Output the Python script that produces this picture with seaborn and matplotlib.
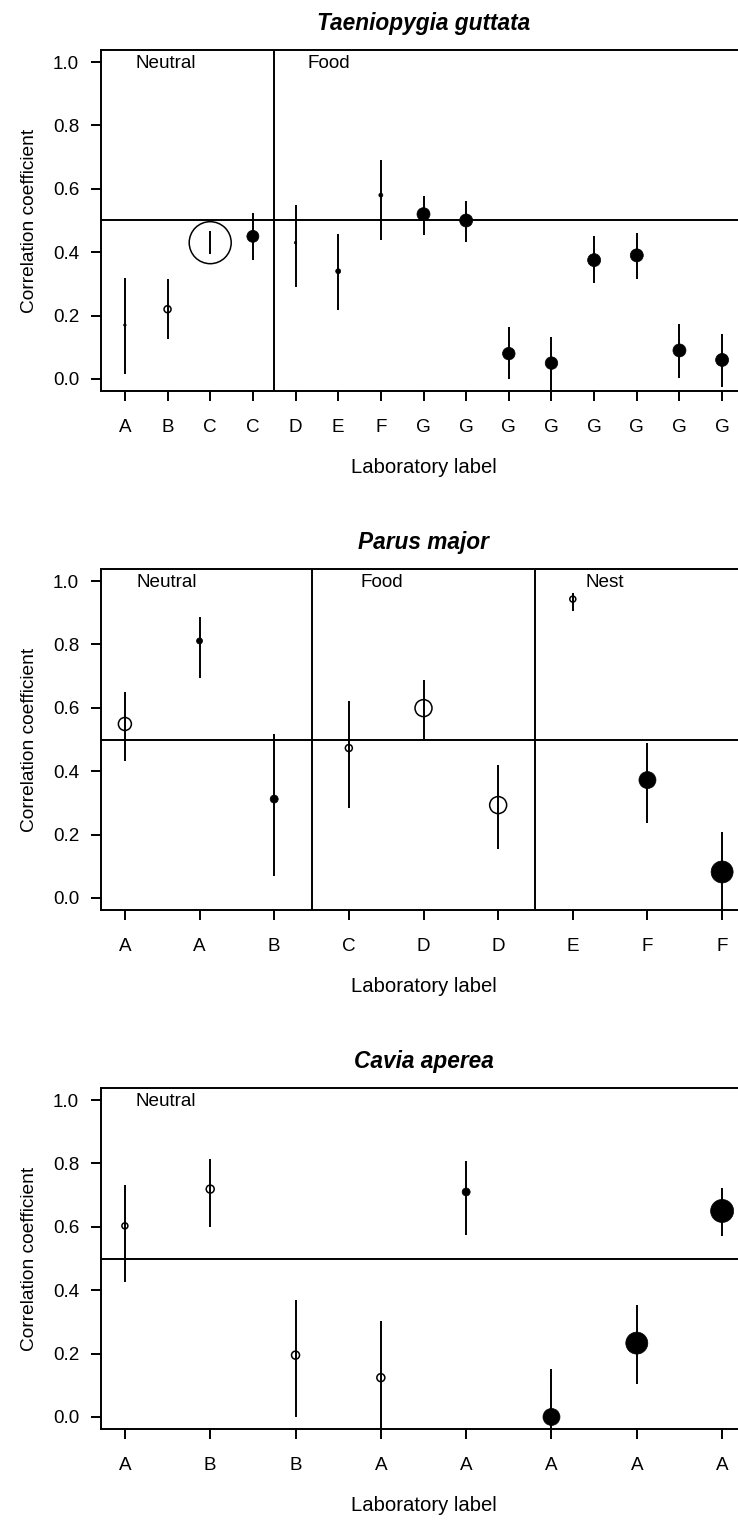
import numpy as np
import pandas as pd
import matplotlib
matplotlib.use("Agg")
import matplotlib.pyplot as plt
import seaborn as sns

# ---------------- data ----------------
# Panel 1: Taeniopygia guttata
t1_title = "Taeniopygia guttata"
t1_labels = ["A", "B", "C", "C", "D", "E", "F", "G", "G", "G", "G", "G", "G", "G", "G"]
t1_r = [0.17, 0.22, 0.43, 0.45, 0.43, 0.34, 0.58, 0.52, 0.50, 0.08, 0.05, 0.375, 0.39, 0.09, 0.06]
t1_lo = [0.015, 0.125, 0.394, 0.375, 0.29, 0.218, 0.438, 0.454, 0.432, 0.0, -0.04, 0.303, 0.316, 0.003, -0.025]
t1_hi = [0.32, 0.315, 0.467, 0.524, 0.549, 0.457, 0.69, 0.577, 0.561, 0.164, 0.132, 0.451, 0.461, 0.173, 0.142]
t1_size = [2.5, 7, 42, 12, 2.5, 5, 4, 13, 13, 12.5, 12.5, 13, 13, 13, 13]
t1_filled = [1, 0, 0, 1, 1, 1, 1, 1, 1, 1, 1, 1, 1, 1, 1]
t1_groups = ["Neutral", "Food"]
t1_group_x = [1.26, 5.27]
t1_sep = [4.5]

# Panel 2: Parus major
t2_title = "Parus major"
t2_labels = ["A", "A", "B", "C", "D", "D", "E", "F", "F"]
t2_r = [0.549, 0.811, 0.312, 0.473, 0.599, 0.293, 0.943, 0.372, 0.082]
t2_lo = [0.432, 0.694, 0.069, 0.284, 0.502, 0.155, 0.905, 0.236, -0.04]
t2_hi = [0.65, 0.886, 0.517, 0.621, 0.688, 0.42, 0.962, 0.49, 0.208]
t2_size = [13, 6, 8, 7, 17, 17, 6, 17, 22]
t2_filled = [0, 1, 1, 0, 0, 0, 0, 1, 1]
t2_groups = ["Neutral", "Food", "Nest"]
t2_group_x = [1.15, 4.15, 7.17]
t2_sep = [3.5, 6.5]

# Panel 3: Cavia aperea
t3_title = "Cavia aperea"
t3_labels = ["A", "B", "B", "A", "A", "A", "A", "A"]
t3_r = [0.603, 0.719, 0.195, 0.124, 0.71, 0.0, 0.233, 0.65]
t3_lo = [0.426, 0.60, 0.0, -0.04, 0.574, -0.04, 0.104, 0.571]
t3_hi = [0.732, 0.814, 0.369, 0.303, 0.808, 0.151, 0.353, 0.722]
t3_size = [6, 8, 8, 8, 8, 17, 22, 23]
t3_filled = [0, 0, 0, 0, 1, 1, 1, 1]
t3_groups = ["Neutral"]
t3_group_x = [1.13]
t3_sep = []

y_ticks = [0.0, 0.2, 0.4, 0.6, 0.8, 1.0]
y_ticklabels = ["0.0", "0.2", "0.4", "0.6", "0.8", "1.0"]

# ---------------- style ----------------
sns.set_style("ticks")
plt.rcParams["font.family"] = ["Liberation Sans", "DejaVu Sans"]
plt.rcParams["text.color"] = "black"
plt.rcParams["axes.labelcolor"] = "black"
plt.rcParams["xtick.color"] = "black"
plt.rcParams["ytick.color"] = "black"
plt.rcParams["axes.edgecolor"] = "black"
FS = 13.6
LW = 1.4
PX = 0.72  # points per pixel at dpi 100

W, H = 738, 1522
fig = plt.figure(figsize=(W / 100, H / 100), dpi=100)

ax_left_px, ax_right_px = 101, 746
frame_h = 341
frame_bottoms = [391, 910, 1429]

panels = [
    (t1_title, t1_labels, t1_r, t1_lo, t1_hi, t1_size, t1_filled, t1_groups, t1_group_x, t1_sep),
    (t2_title, t2_labels, t2_r, t2_lo, t2_hi, t2_size, t2_filled, t2_groups, t2_group_x, t2_sep),
    (t3_title, t3_labels, t3_r, t3_lo, t3_hi, t3_size, t3_filled, t3_groups, t3_group_x, t3_sep),
]

for (title, labels, r, lo, hi, size, filled, groups, gx, seps), fb in zip(panels, frame_bottoms):
    ax = fig.add_axes([ax_left_px / W, (H - fb) / H,
                       (ax_right_px - ax_left_px) / W, frame_h / H])
    n = len(labels)
    df = pd.DataFrame({
        "x": np.arange(1, n + 1),
        "r": r, "lo": lo, "hi": hi,
        "s": [(d * PX) ** 2 for d in size],
        "filled": filled,
    })

    # reference lines
    ax.axhline(0.5, color="black", lw=LW, zorder=1)
    for s in seps:
        ax.axvline(s, color="black", lw=LW, zorder=1)

    # confidence intervals
    ax.vlines(df["x"], df["lo"], df["hi"], color="black", lw=LW, zorder=2)

    fdf = df[df["filled"] == 1]
    odf = df[df["filled"] == 0]
    if len(fdf):
        sns.scatterplot(data=fdf, x="x", y="r", s=fdf["s"].tolist(), color="black",
                        edgecolor="black", linewidth=0.5, ax=ax, zorder=3, legend=False)
    if len(odf):
        sns.scatterplot(data=odf, x="x", y="r", s=odf["s"].tolist(), color="black",
                        facecolor="none", edgecolor="black", linewidth=1.1, ax=ax,
                        zorder=3, legend=False)

    ax.set_xlim(1 - 0.04 * (n - 1), n + 0.04 * (n - 1))
    ax.set_ylim(-0.038, 1.038)
    ax.set_yticks(y_ticks)
    ax.set_yticklabels(y_ticklabels)
    ax.set_xticks(df["x"])
    ax.set_xticklabels(labels)
    ax.tick_params(axis="both", direction="out", length=10 * PX, width=LW,
                   labelsize=FS, color="black", labelcolor="black")
    ax.tick_params(axis="x", pad=13)
    ax.tick_params(axis="y", pad=8.5)
    for sp in ax.spines.values():
        sp.set_visible(True)
        sp.set_linewidth(LW)
        sp.set_color("black")

    for g, x in zip(groups, gx):
        ax.text(x, 0.995, g, fontsize=FS, ha="left", va="center", color="black")

    ax.set_title(title, fontsize=FS * 1.2, fontweight="bold", fontstyle="italic",
                 pad=14.5, color="black")
    ax.set_xlabel("Laboratory label", fontsize=14.6, color="black")
    ax.set_ylabel("Correlation coefficient", fontsize=FS + 0.2, color="black")
    ax.xaxis.set_label_coords(0.5, -67 / frame_h)
    ax.yaxis.set_label_coords((38 - ax_left_px) / (ax_right_px - ax_left_px), 0.5)

fig.savefig("out.png", dpi=100)
